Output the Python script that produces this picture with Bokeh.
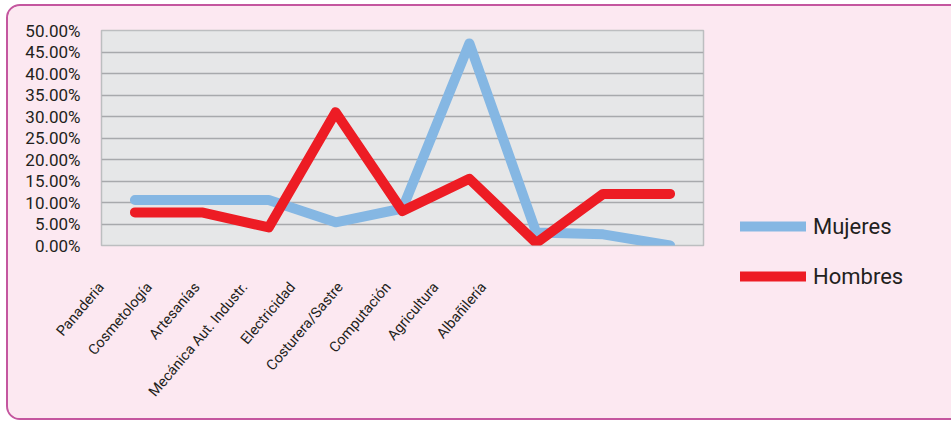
from bokeh.plotting import figure
from bokeh.layouts import column
from bokeh.models import (Range1d, LinearAxis, FixedTicker, ColumnDataSource,
                          PrintfTickFormatter, Legend, LegendItem)
from bokeh.embed import file_html
from bokeh.resources import INLINE

categories = ["Panaderia", "Cosmetología", "Artesanías", "Mecánica Aut. Industr.",
              "Electricidad", "Costurera/Sastre", "Computación", "Agricultura",
              "Albañilería"]
mujeres = [10.6, 10.6, 10.6, 5.4, 8.6, 47.0, 3.0, 2.6, 0.0]
hombres = [7.7, 7.7, 4.2, 31.0, 8.0, 15.5, 0.6, 12.0, 12.0]
y_ticks = [0, 5, 10, 15, 20, 25, 30, 35, 40, 45, 50]
series_names = ["Mujeres", "Hombres"]

FONT = "Roboto"
PINK = "#FCE8F1"
TEXT = "#231F20"

n = len(categories)
# category slot centres (each category occupies one unit)
src = ColumnDataSource(dict(x=[i + 0.5 for i in range(n)], cat=categories,
                            mujeres=mujeres, hombres=hombres))

fig = figure(x_range=Range1d(0, n), y_range=Range1d(0, 50),
             frame_width=602, frame_height=215,
             min_border_left=93, min_border_top=24,
             min_border_right=244, min_border_bottom=173,
             x_axis_location=None,
             output_backend="svg", toolbar_location=None,
             background_fill_color="#E6E7E8", border_fill_color=PINK,
             outline_line_color="#BCBEC0", outline_line_width=1.5)

# y axis
fig.yaxis.ticker = FixedTicker(ticks=y_ticks)
fig.yaxis.formatter = PrintfTickFormatter(format="%.2f%%")
fig.yaxis.axis_line_color = None
fig.yaxis.major_tick_line_color = None
fig.yaxis.minor_tick_line_color = None
fig.yaxis.major_label_standoff = 15
fig.yaxis.major_label_text_font = FONT
fig.yaxis.major_label_text_font_size = "17px"
fig.yaxis.major_label_text_color = TEXT

fig.xgrid.grid_line_color = None
fig.ygrid.ticker = FixedTicker(ticks=y_ticks)
fig.ygrid.grid_line_color = "#A7A9AC"
fig.ygrid.grid_line_width = 1.5

# category label axis (labels are laid out more tightly than the data points)
fig.extra_x_ranges = {"lab": Range1d(-0.0001, 12.6)}
lab_axis = LinearAxis(x_range_name="lab",
                      ticker=FixedTicker(ticks=list(range(n))),
                      major_label_overrides={i: c for i, c in enumerate(categories)})
lab_axis.axis_line_color = None
lab_axis.major_tick_line_color = None
lab_axis.minor_tick_line_color = None
lab_axis.major_label_orientation = 0.87
lab_axis.major_label_standoff = 33
lab_axis.major_label_text_font = FONT
lab_axis.major_label_text_font_size = "14.5px"
lab_axis.major_label_text_color = TEXT
fig.add_layout(lab_axis, "below")

r_m = fig.line("x", "mujeres", source=src, line_color="#85B7E3", line_width=10,
               line_cap="round", line_join="round")
r_h = fig.line("x", "hombres", source=src, line_color="#ED1C24", line_width=10,
               line_cap="round", line_join="round")

legend = Legend(items=[LegendItem(label=series_names[0], renderers=[r_m]),
                       LegendItem(label=series_names[1], renderers=[r_h])],
                location=(37, -46), orientation="vertical",
                glyph_width=66, glyph_height=30, label_height=30,
                label_standoff=7, spacing=20, padding=5, margin=0,
                border_line_color=None, background_fill_alpha=0,
                label_text_font=FONT, label_text_font_size="22px",
                label_text_color=TEXT)
fig.add_layout(legend, "right")

p = column(fig, margin=(4, 0, 0, 6),
           styles={"border": "2px solid #C4569F", "border-radius": "14px",
                   "overflow": "hidden", "background-color": PINK})

open("out.html", "w").write(file_html(p, INLINE))
